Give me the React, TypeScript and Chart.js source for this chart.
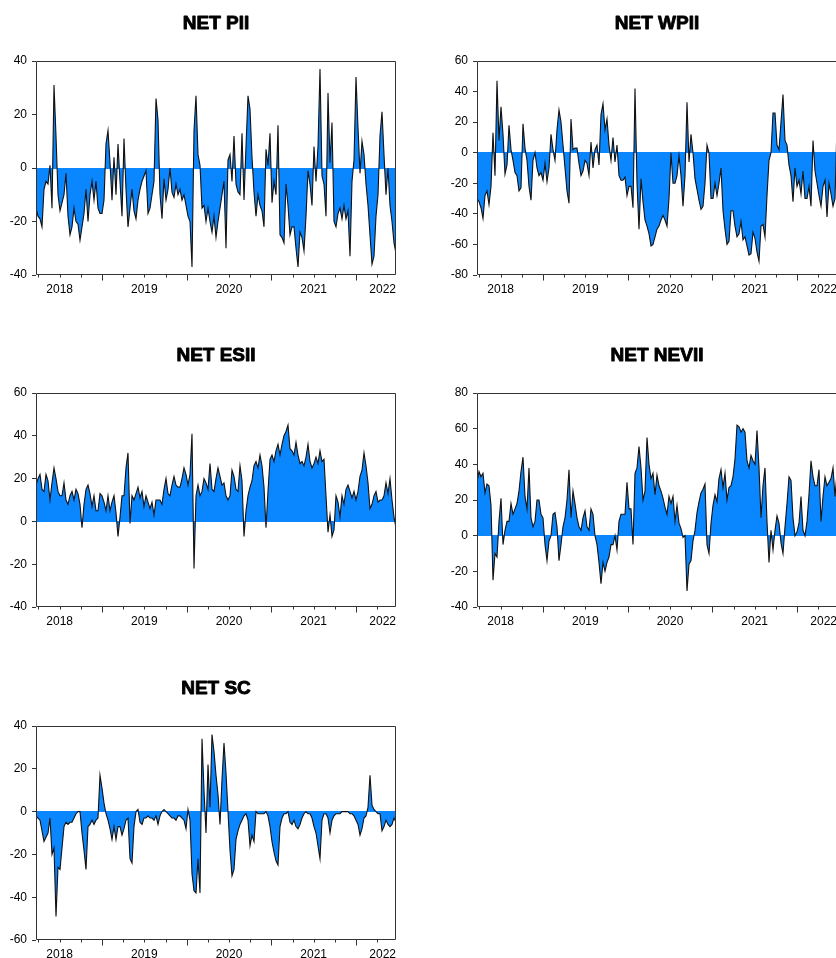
import React, { useEffect, useRef } from 'react';
import { Chart, registerables } from 'chart.js';

Chart.register(...registerables);

// ---- time axis (fractional years) ----
const X_START = 2018.2205;
const X_END = 2022.472;
const QUARTER_TICKS = [
  2018.25, 2018.5, 2018.75, 2019.0, 2019.25, 2019.5, 2019.75, 2020.0, 2020.25,
  2020.5, 2020.75, 2021.0, 2021.25, 2021.5, 2021.75, 2022.0, 2022.25,
];
const LABEL_TICKS = [X_START, 2018.5, 2019.5, 2020.5, 2021.5, X_END];
const TICK_LABELS = ['', '2018', '2019', '2020', '2021', '2022'];

// ---- series (181 equally spaced observations) ----
const NET_PII = [
  -15, -18, -19, -22, -8, -5, -6, 1, -15, 31,
  12, -10, -16, -13, -10, -2, -18, -25, -22, -15,
  -20, -21, -27, -22, -17, -8, -20, -10, -5, -12,
  -5, -15, -17, -17, -12, 9, 14, 2, -12, 4,
  -10, 9, -5, -18, 11, -8, -22, -15, -8, -16,
  -19, -12, -8, -5, -3, -1, -17, -15, -10, -5,
  26, 18, -10, -19, -4, -12, -8, 0, -9, -11,
  -6, -10, -8, -12, -10, -14, -18, -20, -37, 14,
  27, 5, 1, -15, -14, -20, -15, -20, -24, -18,
  -26, -20, -15, -10, -5, -30, 3, 5, -5, 12,
  -6, -9, -10, 13, -12, 8, 27, 22, 4, -9,
  -18, -10, -14, -16, -22, 7, 1, 13, -13, -5,
  -10, 16, -25, -26, -28, -6, -14, -25, -22, -22,
  -30, -37, -24, -26, -31, -18, -1, -6, -14, 8,
  -5, 8, 37, -3, -6, -18, 28, 2, 17, -20,
  -22, -17, -15, -19, -14, -19, -16, -33, -5, 3,
  34, 15, -2, 10, 5, -6, -14, -25, -36, -33,
  -18, -10, 12, 21, 5, -10, 0, -14, -20, -28, -32,
];

const NET_WPII = [
  -30, -32, -36, -43, -28, -25, -34, -22, 13, -15,
  47, 8, 30, 12, -14, -8, 18, 2, -5, -13,
  -15, -25, -23, 19, 3, -5, -22, -31, -5, 0,
  -10, -15, -13, -18, -7, -19, -10, 12, 2, -5,
  15, 28, 20, 5, -10, -25, -33, 22, 2, 3,
  3, -7, -15, -12, -5, -7, -15, 7, -10, 2,
  5, -8, 25, 32, 15, 22, 5, -5, 10, -6,
  5, -15, -18, -18, -16, -28, -22, -22, -36, 42,
  -20, -50, -17, -32, -44, -48, -53, -61, -60, -55,
  -50, -48, -44, -41, -44, -48, -30, 0, -20, -20,
  -15, -2, -15, -35, -15, 33, -6, 12, 0, -17,
  -24, -31, -37, -35, -20, 5, 0, -30, -30, -20,
  -28, -20, -10, -38, -50, -60, -58, -38, -38, -48,
  -55, -53, -45, -57, -55, -61, -67, -66, -52, -56,
  -65, -71, -48, -47, -55, -28, -5, 0, 26, 26,
  5, 2, 20, 38, 8, 5, -8, -15, -32, -10,
  -22, -18, -27, -12, -30, -30, -22, -35, 8, -12,
  -20, -28, -35, -22, -18, -42, -20, -27, -35, -30, 18,
];

const NET_ESII = [
  17, 20, 22, 15, 14, 22, 19, 10, 18, 25,
  20, 14, 12, 12, 18, 10, 8, 12, 14, 10,
  15, 13, 8, -3, 8, 15, 17, 13, 7, 12,
  5, 5, 13, 12, 9, 5, 12, 5, 9, 12,
  4, -7, 2, 12, 12, 25, 32, -1, 12, 10,
  13, 16, 11, 14, 7, 12, 9, 6, 9, 3,
  10, 10, 10, 8, 15, 20, 13, 12, 17, 21,
  17, 16, 16, 20, 25, 22, 17, 22, 41, -22,
  12, 17, 12, 14, 20, 18, 15, 27, 15, 14,
  20, 25, 21, 17, 18, 12, 10, 12, 24, 21,
  15, 14, 26, 19, -7, 5, 12, 16, 19, 26,
  28, 25, 31, 26, 16, -3, 14, 29, 31, 28,
  33, 36, 31, 36, 40, 42, 45, 34, 33, 31,
  37, 31, 27, 28, 26, 30, 36, 28, 25, 27,
  30, 27, 33, 28, 29, 12, -5, 3, -7, -4,
  12, 9, 2, 12, 8, 15, 17, 14, 11, 14,
  10, 14, 21, 24, 32, 26, 18, 6, 8, 12,
  14, 9, 10, 10, 12, 18, 13, 20, 10, 2, -3,
];

const NET_NEVII = [
  30, 36, 33, 35, 24, 29, 28, 17, -25, -10,
  -12, 8, 21, -5, 3, 8, 8, 18, 12, 15,
  18, 25, 36, 44, 22, 15, 38, 10, 5, 8,
  20, 20, 12, 10, -5, -14, -3, 0, 12, 13,
  5, -14, -5, 5, 10, 20, 37, 10, 25, 18,
  10, 5, 3, 10, 14, 5, 3, 15, 12, 0,
  -5, -15, -27, -15, -20, -15, -12, -5, -5, 0,
  -8, 8, 12, 12, 12, 30, 15, 15, -5, 35,
  38, 50, 38, 20, 25, 55, 40, 32, 35, 23,
  34, 28, 25, 21, 16, 12, 22, 18, 22, 8,
  17, 7, 4, -1, 0, -31, -16, -14, -3, 3,
  13, 19, 24, 26, 29, -5, -10, 7, 17, 23,
  19, 32, 37, 27, 35, 20, 27, 28, 33, 43,
  62, 61, 58, 60, 58, 42, 38, 45, 42, 40,
  59, 38, 10, 28, 38, 8, -15, 3, -8, 3,
  11, 7, -4, -10, 5, 18, 33, 31, 10, 0,
  2, 7, 22, 3, 0, 8, 23, 42, 33, 28,
  28, 37, 8, 22, 33, 28, 30, 32, 38, 22, 35,
];

const NET_SC = [
  -2, -3, -4, -9, -14, -12, -10, -3, -20, -17,
  -49, -26, -27, -17, -7, -5, -6, -5, -5, -3,
  -1, 0, 0, -10, -18, -27, -7, -6, -4, -6,
  -4, -3, 17, 11, 4, -1, -4, -8, -13, -7,
  -13, -7, -7, -11, -8, -4, -3, -22, -24, -7,
  0, 1, -5, -6, -3, -3, -2, -3, -3, -4,
  -2, -6, -2, 0, 1, 0, -1, -2, -3, -3,
  -4, -2, -2, -3, -4, -8, 1, -4, -29, -37,
  -38, -22, -38, 34, 10, -10, 22, 2, 36, 28,
  17, 8, -6, 15, 32, 18, 0, -18, -30, -27,
  -13, -9, -6, -4, -2, -1, -4, -16, -11, -14,
  0, -1, -1, -1, -1, 0, -2, -7, -14, -19,
  -23, -25, -7, -3, -1, -1, 0, -5, -6, -4,
  -7, -8, -6, -3, -1, 0, -1, -1, -3, -7,
  -10, -16, -22, -4, -1, -1, -3, -10, -4, -2,
  -1, -1, -1, 0, 0, 0, 0, -1, -1, -2,
  -4, -6, -11, -8, -3, -2, 2, 17, 3, 1,
  0, -1, -1, -9, -7, -4, -6, -7, -6, -3, -5,
];

const TITLES = ['NET PII', 'NET WPII', 'NET ESII', 'NET NEVII', 'NET SC'];
const Y_MIN = [-40, -80, -40, -40, -60];
const Y_MAX = [40, 60, 60, 80, 40];
const SERIES = [NET_PII, NET_WPII, NET_ESII, NET_NEVII, NET_SC];

// ---- layout ----
const PLOT_LEFT = [36, 477, 36, 477, 36];
const PLOT_TOP = [61, 61, 393, 393, 726];
const PLOT_W = 360;
const PLOT_H = 214;
const PAD_L = 36;
const PAD_T = 61;
const PAD_R = 12;
const PAD_B = 30;
const CANVAS_W = PAD_L + PLOT_W + PAD_R;
const CANVAS_H = PAD_T + PLOT_H + PAD_B;

const FILL = '#0A86FF';
const LINE = '#111111';
const AXIS = '#333333';
const FONT_FAMILY = '"Liberation Sans", Arial, Helvetica, sans-serif';

function framePlugin(title: string) {
  return {
    id: 'frame-' + title,
    afterDatasetsDraw(chart: any) {
      const { ctx, chartArea: a, scales } = chart;
      const xs = scales.x;
      ctx.save();
      ctx.strokeStyle = AXIS;
      ctx.lineWidth = 1;
      const l = Math.round(a.left) + 0.5;
      const r = Math.round(a.right) - 0.5;
      const t = Math.round(a.top) + 0.5;
      const b = Math.round(a.bottom) - 0.5;
      ctx.beginPath();
      ctx.moveTo(l, t);
      ctx.lineTo(r, t);
      ctx.lineTo(r, b);
      ctx.lineTo(l, b);
      ctx.closePath();
      ctx.stroke();
      // x ticks: quarters short, year starts long
      ctx.beginPath();
      QUARTER_TICKS.forEach((v) => {
        const x = Math.round(xs.getPixelForValue(v)) + 0.5;
        const len = Math.abs(v - Math.round(v)) < 1e-6 ? 6 : 3;
        ctx.moveTo(x, b);
        ctx.lineTo(x, b + len);
      });
      ctx.stroke();
      ctx.restore();
    },
    afterDraw(chart: any) {
      const { ctx, chartArea: a } = chart;
      ctx.save();
      ctx.fillStyle = '#000';
      ctx.strokeStyle = '#000';
      ctx.lineWidth = 0.9;
      ctx.lineJoin = 'round';
      ctx.font = 'bold 19px ' + FONT_FAMILY;
      ctx.textAlign = 'center';
      ctx.textBaseline = 'middle';
      const cx = (a.left + a.right) / 2;
      const cy = a.top - 37;
      ctx.fillText(title, cx, cy);
      ctx.strokeText(title, cx, cy);
      ctx.restore();
    },
  };
}

function Panel({ idx }: { idx: number }) {
  const ref = useRef<HTMLCanvasElement | null>(null);
  useEffect(() => {
    const canvas = ref.current;
    if (!canvas) return;
    const values = SERIES[idx];
    const step = (X_END - X_START) / (values.length - 1);
    const pts = values.map((v, i) => ({ x: X_START + i * step, y: v }));
    const tickFont = { family: FONT_FAMILY, size: 12 };
    const chart = new Chart(canvas, {
      type: 'line',
      data: {
        datasets: [
          {
            data: pts,
            borderColor: LINE,
            borderWidth: 1.1,
            backgroundColor: FILL,
            fill: 'origin',
            pointRadius: 0,
            tension: 0,
          },
        ],
      },
      options: {
        animation: false,
        responsive: false,
        events: [],
        layout: { padding: { top: PAD_T, right: PAD_R, left: 0, bottom: 0 } },
        plugins: {
          legend: { display: false },
          tooltip: { enabled: false },
          title: { display: false },
        },
        scales: {
          x: {
            type: 'linear',
            min: X_START,
            max: X_END,
            grid: { display: false, drawTicks: false, tickLength: 0 },
            border: { display: false },
            afterBuildTicks: (s: any) => {
              s.ticks = LABEL_TICKS.map((v) => ({ value: v }));
            },
            afterFit: (s: any) => {
              s.height = PAD_B;
            },
            ticks: {
              autoSkip: false,
              maxRotation: 0,
              minRotation: 0,
              align: 'inner',
              padding: 7,
              color: '#000',
              font: tickFont,
              callback: (_v: any, i: number) => TICK_LABELS[i],
            },
          },
          y: {
            min: Y_MIN[idx],
            max: Y_MAX[idx],
            afterFit: (s: any) => {
              s.width = PAD_L;
            },
            border: { display: false },
            grid: {
              color: (c: any) => (c.tick && c.tick.value === 0 ? FILL : 'rgba(0,0,0,0)'),
              tickColor: AXIS,
              tickLength: 4,
              lineWidth: 1,
            },
            ticks: { stepSize: 20, padding: 5, color: '#000', font: tickFont },
          },
        },
      } as any,
      plugins: [framePlugin(TITLES[idx])],
    });
    return () => chart.destroy();
  }, [idx]);
  return (
    <canvas
      ref={ref}
      width={CANVAS_W}
      height={CANVAS_H}
      style={{
        position: 'absolute',
        left: PLOT_LEFT[idx] - PAD_L,
        top: PLOT_TOP[idx] - PAD_T,
        width: CANVAS_W,
        height: CANVAS_H,
      }}
    />
  );
}

export default function App() {
  return (
    <div
      style={{
        position: 'fixed',
        left: 0,
        top: 0,
        width: 836,
        height: 958,
        overflow: 'hidden',
        background: '#fff',
      }}
    >
      {TITLES.map((_, i) => (
        <Panel key={i} idx={i} />
      ))}
    </div>
  );
}
